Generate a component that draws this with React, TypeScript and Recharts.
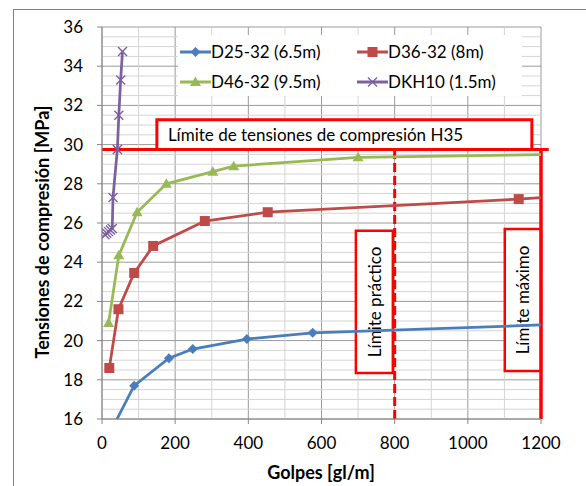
import React from 'react';
import { LineChart, Line, XAxis, YAxis, CartesianGrid, ReferenceLine, ReferenceArea } from 'recharts';

// golpes [gl/m] vs tensiones [MPa]
const d25X = [30, 88, 183, 248, 396, 576, 1250];
const d25Y = [15.6, 17.7, 19.1, 19.57, 20.08, 20.4, 20.83];

const d36X = [20, 45, 88, 140, 281, 453, 1139, 1300];
const d36Y = [18.6, 21.6, 23.45, 24.83, 26.1, 26.55, 27.22, 27.43];

const d46X = [18, 46, 96, 176, 303, 360, 700, 1300];
const d46Y = [20.9, 24.35, 26.55, 28.0, 28.62, 28.9, 29.35, 29.52];

const dkhX = [8, 13, 18, 23, 28, 30, 42, 46, 51, 56];
const dkhY = [25.4, 25.48, 25.56, 25.64, 25.72, 27.3, 29.75, 31.5, 33.3, 34.75];

const xTicks = [0, 200, 400, 600, 800, 1000, 1200];
const yTicks = [16, 18, 20, 22, 24, 26, 28, 30, 32, 34, 36];
const xMinor = [100, 300, 500, 700, 900, 1100];
const yMinor: number[] = [];
for (let v = 16.5; v < 36; v += 0.5) if (v % 2 !== 0) yMinor.push(v);

const limiteH35 = 29.75;
const limitePractico = 800;
const limiteMaximo = 1200;

const zip = (xs: number[], ys: number[]) => xs.map((x, i) => ({ x, y: ys[i] }));

const series = [
  { name: 'D25-32 (6.5m)', color: '#4A7EBB', marker: 'diamond', data: zip(d25X, d25Y) },
  { name: 'D36-32 (8m)', color: '#BE4B48', marker: 'square', data: zip(d36X, d36Y) },
  { name: 'D46-32 (9.5m)', color: '#98B954', marker: 'triangle', data: zip(d46X, d46Y) },
  { name: 'DKH10 (1.5m)', color: '#7D60A0', marker: 'cross', data: zip(dkhX, dkhY) },
];

const FONT = 'Lato, "Open Sans", sans-serif';
const RED = '#FF0000';

function markerShape(kind: string, cx: number, cy: number, color: string, key?: string) {
  if (kind === 'diamond')
    return <path key={key} d={`M${cx},${cy - 5}L${cx + 5},${cy}L${cx},${cy + 5}L${cx - 5},${cy}Z`} fill={color} />;
  if (kind === 'square') return <rect key={key} x={cx - 5} y={cy - 5} width={10} height={10} fill={color} />;
  if (kind === 'triangle')
    return <path key={key} d={`M${cx},${cy - 5.5}L${cx + 5.5},${cy + 4}L${cx - 5.5},${cy + 4}Z`} fill={color} />;
  return (
    <g key={key} stroke={color} strokeWidth={1.4}>
      <line x1={cx - 4.5} y1={cy - 4.5} x2={cx + 4.5} y2={cy + 4.5} />
      <line x1={cx - 4.5} y1={cy + 4.5} x2={cx + 4.5} y2={cy - 4.5} />
    </g>
  );
}

const hLabel = (text: string) => (p: any) => {
  const { x, y, height } = p.viewBox;
  return (
    <text x={x + 11} y={y + height / 2 + 6} fontSize={17} fontFamily={FONT} fill="#000">
      {text}
    </text>
  );
};

const vLabel = (text: string) => (p: any) => {
  const { x, y, width, height } = p.viewBox;
  const cx = x + width / 2;
  const cy = y + height / 2;
  return (
    <text x={cx} y={cy} transform={`rotate(-90 ${cx} ${cy})`} textAnchor="middle" dominantBaseline="central"
      fontSize={17} fontFamily={FONT} fill="#000">
      {text}
    </text>
  );
};

function Legendo() {
  return (
    <div style={{ position: 'absolute', left: 178, top: 35, width: 344, height: 61, background: '#fff',
      fontFamily: FONT, fontSize: 17, color: '#000' }}>
      {series.map((s, i) => (
        <div key={s.name} style={{ position: 'absolute', left: i % 2 === 0 ? 2 : 179, top: i < 2 ? 6 : 36,
          display: 'flex', alignItems: 'center', whiteSpace: 'nowrap' }}>
          <svg width={31} height={20}>
            <line x1={0} y1={10} x2={31} y2={10} stroke={s.color} strokeWidth={3} />
            {markerShape(s.marker, 15.5, 10, s.color)}
          </svg>
          <span>{s.name}</span>
        </div>
      ))}
    </div>
  );
}

export default function App() {
  return (
    <div style={{ position: 'absolute', left: 0, top: 0, width: 586, height: 486, background: '#fff', overflow: 'hidden' }}>
      <div style={{ position: 'absolute', left: 13, top: 9, width: 620, height: 520, border: '1px solid #808080' }} />
      <LineChart width={586} height={486} margin={{ top: 27, right: 45, bottom: 37, left: 42 }}
        style={{ position: 'absolute', left: 0, top: 0, fontFamily: FONT }}>
        <CartesianGrid stroke="#9A9A9A" strokeWidth={1} />
        {xMinor.map((v) => (
          <ReferenceLine key={'xm' + v} x={v} stroke="#D4D4D4" strokeWidth={1} zIndex={-90} />
        ))}
        {yMinor.map((v) => (
          <ReferenceLine key={'ym' + v} y={v} stroke="#D4D4D4" strokeWidth={1} zIndex={-90} />
        ))}
        <XAxis dataKey="x" type="number" domain={[0, 1200]} ticks={xTicks} allowDataOverflow
          stroke="#868686" tickSize={5} tickMargin={13} height={30}
          tick={{ fill: '#000', fontSize: 17, fontFamily: FONT }} />
        <YAxis type="number" domain={[16, 36]} ticks={yTicks} allowDataOverflow
          stroke="#868686" tickSize={5} tickMargin={14} width={60}
          tick={{ fill: '#000', fontSize: 17, fontFamily: FONT }} />
        <ReferenceArea x1={150} x2={1175} y1={limiteH35} y2={31.27} ifOverflow="visible" zIndex={50}
          fill="#fff" fillOpacity={1} stroke={RED} strokeWidth={3}
          label={hLabel('Límite de tensiones de compresión H35')} />
        <ReferenceArea x1={694} x2={795} y1={18.35} y2={25.6} ifOverflow="visible" zIndex={50}
          fill="#fff" fillOpacity={1} stroke={RED} strokeWidth={2.5}
          label={vLabel('Límite práctico')} />
        <ReferenceArea x1={1101} x2={1200} y1={18.45} y2={25.7} ifOverflow="visible" zIndex={50}
          fill="#fff" fillOpacity={1} stroke={RED} strokeWidth={2.5}
          label={vLabel('Límite máximo')} />
        <ReferenceLine segment={[{ x: 0, y: limiteH35 }, { x: 1221, y: limiteH35 }]} ifOverflow="visible"
          stroke={RED} strokeWidth={3} zIndex={60} />
        <ReferenceLine segment={[{ x: limitePractico, y: 16 }, { x: limitePractico, y: limiteH35 }]}
          stroke={RED} strokeWidth={3} strokeDasharray="9 4" zIndex={60} />
        <ReferenceLine segment={[{ x: limiteMaximo, y: 16 }, { x: limiteMaximo, y: limiteH35 }]}
          stroke={RED} strokeWidth={3.5} zIndex={60} />
        {series.map((s) => (
          <Line key={s.name} data={s.data} dataKey="y" name={s.name} type="linear"
            stroke={s.color} strokeWidth={2.75} isAnimationActive={false}
            dot={(p: any) => markerShape(s.marker, p.cx, p.cy, s.color, `${s.name}-${p.index}`)}
            activeDot={false} />
        ))}
      </LineChart>
      <Legendo />
      <div style={{ position: 'absolute', left: 321, top: 472, transform: 'translate(-50%,-50%)',
        fontFamily: FONT, fontWeight: 700, fontSize: 18, whiteSpace: 'nowrap' }}>
        Golpes [gl/m]
      </div>
      <div style={{ position: 'absolute', left: 42, top: 232, transform: 'translate(-50%,-50%) rotate(-90deg)',
        fontFamily: FONT, fontWeight: 700, fontSize: 18, whiteSpace: 'nowrap' }}>
        Tensiones de compresión [MPa]
      </div>
    </div>
  );
}
